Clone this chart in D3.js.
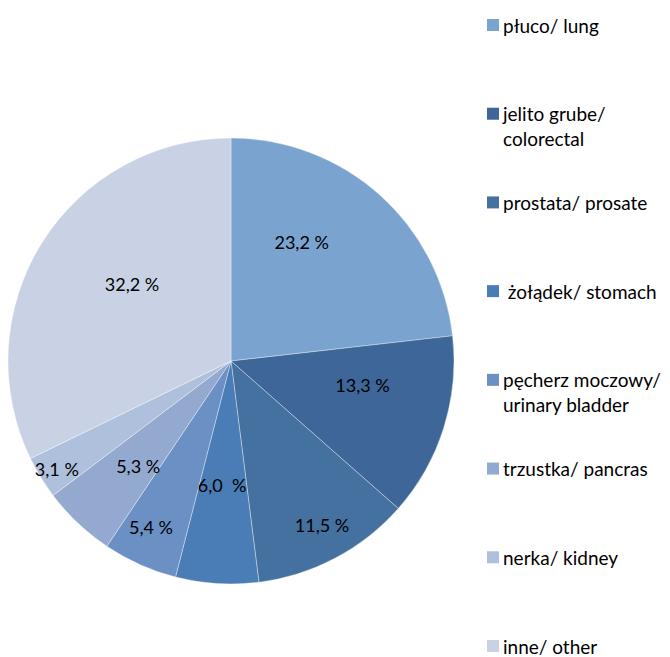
<!DOCTYPE html>
<html>
<head>
<meta charset="utf-8">
<script src="https://cdn.jsdelivr.net/npm/d3@7"></script>
<style>
    body { margin: 0; background: #fff; }
    text { font-family: Lato, "Open Sans", sans-serif; fill: #000; }
</style>
</head>
<body>
<svg id="chart" width="670" height="657"></svg>
<script>
const categories = ["płuco/ lung", "jelito grube/ colorectal", "prostata/ prosate", " żołądek/ stomach",
    "pęcherz moczowy/ urinary bladder", "trzustka/ pancras", "nerka/ kidney", "inne/ other"]
const legendLines = [["płuco/ lung"], ["jelito grube/", "colorectal"], ["prostata/ prosate"], [" żołądek/ stomach"],
    ["pęcherz moczowy/", "urinary bladder"], ["trzustka/ pancras"], ["nerka/ kidney"], ["inne/ other"]]
const values = [23.2, 13.3, 11.5, 6.0, 5.4, 5.3, 3.1, 32.2]
const valueLabels = ["23,2 %", "13,3 %", "11,5 %", "6,0  %", "5,4 %", "5,3 %", "3,1 %", "32,2 %"]
const colors = ["#7ba3cf", "#3e6699", "#44719f", "#4a7cb5", "#6a90c4", "#94a9d0", "#afc0dc", "#c9d2e5"]

// where excel put each label: fraction of radius and turn (degrees) off the slice middle
const labelRadius = [0.62, 0.60, 0.845, 0.56, 0.83, 0.63, 0.92, 0.56]
const labelShift = [-11, -7, -1, 0.5, 1.5, -2, -0.4, 5.5]

const svg = d3.select("#chart")
const cx = 231, cy = 361, R = 223

const pie = d3.pie().sort(null).value((d) => d)
const arcs = pie(values)
const arc = d3.arc().innerRadius(0).outerRadius(R)

const g = svg.append("g").attr("transform", "translate(" + cx + "," + cy + ")")

g.selectAll(".slice")
    .data(arcs)
    .enter()
    .append("path")
    .attr("class", "slice")
    .attr("d", arc)
    .attr("fill", (d, i) => colors[i])
    .attr("stroke", "#ffffff")
    .attr("stroke-opacity", 0.5)
    .attr("stroke-width", 0.7)

function labelAngle(d, i) {
    return (d.startAngle + d.endAngle) / 2 + labelShift[i] * Math.PI / 180
}

g.selectAll(".valueLabel")
    .data(arcs)
    .enter()
    .append("text")
    .attr("class", "valueLabel")
    .attr("x", (d, i) => Math.sin(labelAngle(d, i)) * R * labelRadius[i])
    .attr("y", (d, i) => -Math.cos(labelAngle(d, i)) * R * labelRadius[i])
    .attr("text-anchor", "middle")
    .attr("dy", "0.35em")
    .style("font-size", "18px")
    .style("white-space", "pre")
    .text((d, i) => valueLabels[i])

// legend
const legendY = d3.scalePoint().domain(d3.range(categories.length)).range([25, 646])
const lg = svg.selectAll(".legendItem")
    .data(categories)
    .enter()
    .append("g")
    .attr("class", "legendItem")
    .attr("transform", (d, i) => "translate(487," + legendY(i) + ")")

lg.append("rect")
    .attr("x", 0)
    .attr("y", -6)
    .attr("width", 12)
    .attr("height", 12)
    .attr("fill", (d, i) => colors[i])

lg.append("text")
    .attr("y", 0)
    .style("font-size", "19px")
    .style("white-space", "pre")
    .selectAll("tspan")
    .data((d, i) => legendLines[i])
    .enter()
    .append("tspan")
    .attr("x", 16)
    .attr("dy", (d, j) => j == 0 ? "0.4em" : 25)
    .text((d) => d)
</script>
</body>
</html>
